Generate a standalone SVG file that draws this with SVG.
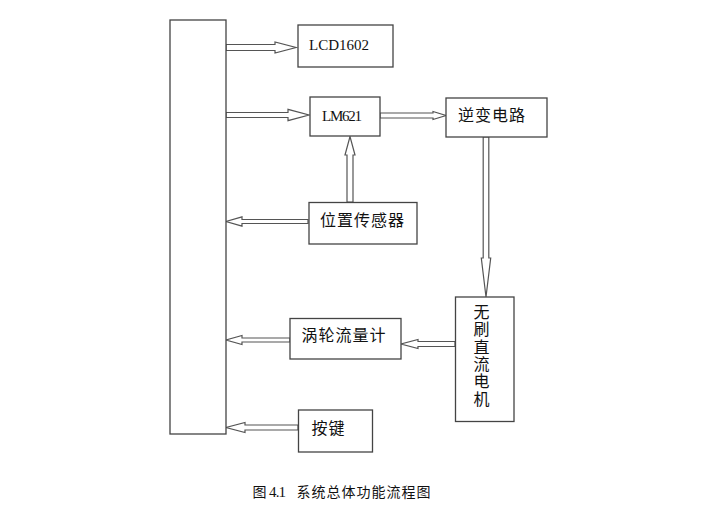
<svg xmlns="http://www.w3.org/2000/svg" width="702" height="515" viewBox="0 0 702 515">
<style>
.box{fill:#fff;stroke:#444;stroke-width:1.3}
.arr{fill:#fff;stroke:#555;stroke-width:1.2;stroke-linejoin:miter}
.lat{font-family:"Liberation Serif",serif;font-size:15px;fill:#111}
.cjk{font-family:"Noto Sans CJK SC","Noto Sans",sans-serif;font-size:16px;fill:#111;letter-spacing:1px}
.cap{font-family:"Liberation Serif","Noto Sans CJK SC",serif;font-size:14px;fill:#111}
</style>
<rect width="702" height="515" fill="#fff"/>
<g id="connectors">
<polygon class="arr" points="226,44.5 275,44.5 275,42 296,47.5 275,53 275,50.5 226,50.5"/>
<polygon class="arr" points="226,112.5 288,112.5 288,109.3 309,115 288,120.7 288,117.5 226,117.5"/>
<polygon class="arr" points="380,113 433,113 433,111.5 446,115.5 433,119.5 433,118 380,118"/>
<polygon class="arr" points="483.2,137 483.2,258 481.3,258 486,297 490.7,258 488.8,258 488.8,137"/>
<polygon class="arr" points="347,202 347,155 345,155 350,136.5 355,155 353,155 353,202"/>
<polygon class="arr" points="308,219.5 242,219.5 242,216.8 226,221.5 242,226.2 242,223.5 308,223.5"/>
<polygon class="arr" points="290,338 242,338 242,335.5 226,340 242,344.5 242,342 290,342"/>
<polygon class="arr" points="455,341.5 418,341.5 418,339.5 401,344 418,348.5 418,346.5 455,346.5"/>
<polygon class="arr" points="298,425 245,425 245,422.5 226,427.5 245,432.5 245,430 298,430"/>
</g>
<g id="mcu"><rect class="box" x="170" y="20" width="56" height="414"/></g>
<g id="lcd"><rect class="box" x="298" y="25" width="95" height="42"/><text class="lat" x="309" y="49.5" font-size="16" textLength="60">LCD1602</text></g>
<g id="lm621"><rect class="box" x="310" y="97" width="70" height="39"/><text class="lat" x="322" y="121" textLength="40">LM621</text></g>
<g id="inverter"><rect class="box" x="446" y="98" width="101" height="39"/><text class="cjk" x="458" y="121">逆变电路</text></g>
<g id="sensor"><rect class="box" x="309" y="202.5" width="108" height="41.5"/><text class="cjk" x="320" y="226" letter-spacing="1.5">位置传感器</text></g>
<g id="flowmeter"><rect class="box" x="290" y="318.5" width="111" height="40.5"/><text class="cjk" x="301.5" y="341">涡轮流量计</text></g>
<g id="motor"><rect class="box" x="455.5" y="297" width="58.5" height="124.5"/>
<text class="cjk" x="482" text-anchor="middle" letter-spacing="0"><tspan x="482" y="318">无</tspan><tspan x="482" y="335.3">刷</tspan><tspan x="482" y="352.6">直</tspan><tspan x="482" y="369.9">流</tspan><tspan x="482" y="387.2">电</tspan><tspan x="482" y="404.5">机</tspan></text></g>
<g id="keys"><rect class="box" x="298.5" y="410" width="74" height="42"/><text class="cjk" x="311.5" y="434">按键</text></g>
<text class="cap" x="252.5" y="497"><tspan font-family="Noto Sans CJK SC,sans-serif">图</tspan><tspan x="269" font-size="15" textLength="17">4.1</tspan><tspan x="296.5" font-family="Noto Sans CJK SC,sans-serif" letter-spacing="1">系统总体功能流程图</tspan></text>
</svg>
